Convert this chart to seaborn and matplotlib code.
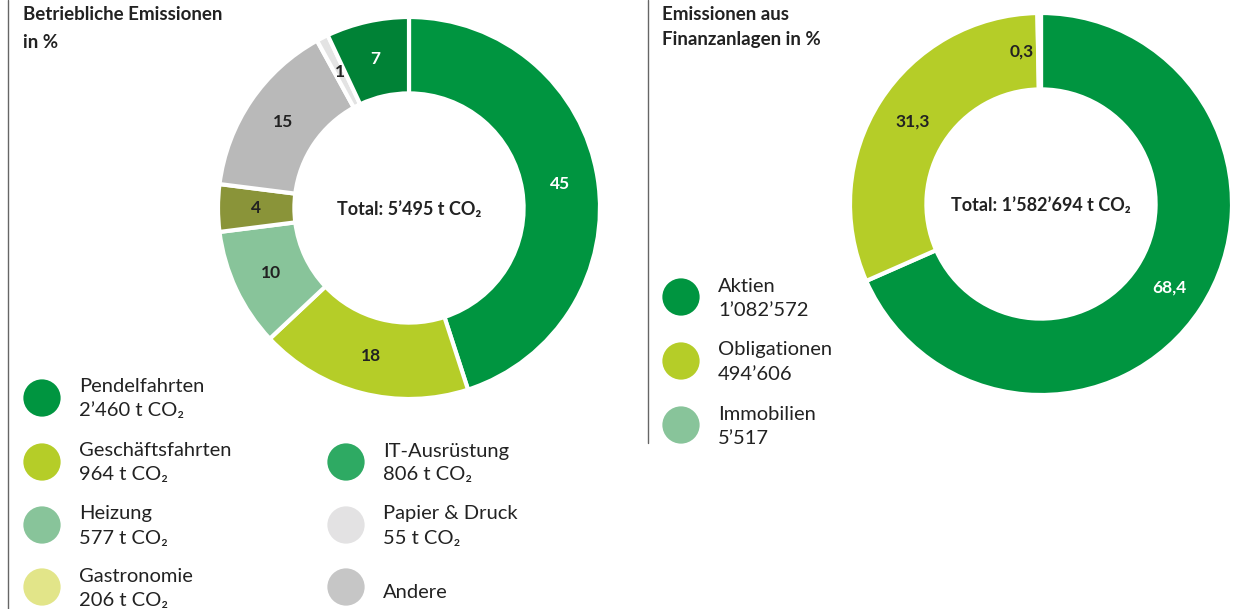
import numpy as np
import pandas as pd
import matplotlib
matplotlib.use("Agg")
import matplotlib.pyplot as plt
import seaborn as sns

# Betriebliche Emissionen (Donut links), Reihenfolge im Uhrzeigersinn ab 12 Uhr
ops_shares = [45, 18, 10, 4, 15, 1, 7]
ops_share_labels = ["45", "18", "10", "4", "15", "1", "7"]
ops_slice_colors = ["#009540", "#b5cd28", "#88c49a", "#8a9439", "#b9b9b9", "#e3e3e3", "#008236"]
ops_label_colors = ["white", "#222222", "#222222", "#222222", "#222222", "#222222", "white"]
ops_total = "Total: 5’495 t CO₂"

ops_legend_names = ["Pendelfahrten", "Geschäftsfahrten", "Heizung", "Gastronomie",
                    "IT-Ausrüstung", "Papier & Druck", "Andere"]
ops_legend_values = ["2’460 t CO₂", "964 t CO₂", "577 t CO₂", "206 t CO₂",
                     "806 t CO₂", "55 t CO₂", ""]
ops_legend_colors = ["#009540", "#b5cd28", "#88c49a", "#e2e589", "#2eaa63", "#e3e2e3", "#c6c6c6"]

# Emissionen aus Finanzanlagen (Donut rechts)
fin_shares = [68.4, 31.3, 0.3]
fin_share_labels = ["68,4", "31,3", "0,3"]
fin_slice_colors = ["#009540", "#b5cd28", "#88c49a"]
fin_label_colors = ["white", "#222222", "#222222"]
fin_total = "Total: 1’582’694 t CO₂"

fin_legend_names = ["Aktien", "Obligationen", "Immobilien"]
fin_legend_values = ["1’082’572", "494’606", "5’517"]
fin_legend_colors = ["#009540", "#b5cd28", "#88c49a"]

sns.set_theme(style="white")
plt.rcParams["font.family"] = ["Lato", "DejaVu Sans"]
TXT = "#222222"

W, H = 1235, 609
fig = plt.figure(figsize=(W / 100, H / 100), dpi=100)
fig.patch.set_facecolor("white")

# Overlay in Pixelkoordinaten fuer Titel, Trennlinien und Legenden
ov = fig.add_axes([0, 0, 1, 1])
ov.set_xlim(0, W)
ov.set_ylim(H, 0)
ov.axis("off")


def donut(cx, cy, r, shares, labels, colors, label_colors, total):
    ax = fig.add_axes([(cx - r) / W, (H - cy - r) / H, 2 * r / W, 2 * r / H])
    wedges, _ = ax.pie(shares, colors=colors, startangle=90, counterclock=False, radius=1,
                       wedgeprops=dict(width=0.40, edgecolor="white", linewidth=3))
    for w, lab, c in zip(wedges, labels, label_colors):
        mid = np.deg2rad((w.theta1 + w.theta2) / 2)
        x, y = 0.8 * np.cos(mid), 0.8 * np.sin(mid)
        ha = "center"
        if w.theta2 - w.theta1 < 2:
            x -= 0.03
            ha = "right"
        ax.text(x, y, lab, ha=ha, va="center", color=c, fontsize=12.5, fontweight="bold")
    ax.text(0, -0.01, total, ha="center", va="center", color=TXT, fontsize=13, fontweight="bold")
    ax.set_xlim(-1, 1)
    ax.set_ylim(-1, 1)
    ax.set_aspect("equal")
    ax.axis("off")


donut(409, 208, 191, ops_shares, ops_share_labels, ops_slice_colors, ops_label_colors, ops_total)
donut(1041, 204, 191, fin_shares, fin_share_labels, fin_slice_colors, fin_label_colors, fin_total)

# Trennlinien
ov.plot([8, 8], [0, H], color="#666666", lw=1)
ov.plot([648, 648], [0, 443], color="#666666", lw=1)

# Titel
ov.text(23, 15, "Betriebliche Emissionen", ha="left", va="center", fontsize=13.5, fontweight="bold", color=TXT)
ov.text(23, 42, "in %", ha="left", va="center", fontsize=13.5, fontweight="bold", color=TXT)
ov.text(662, 15, "Emissionen aus", ha="left", va="center", fontsize=13.5, fontweight="bold", color=TXT)
ov.text(662, 40, "Finanzanlagen in %", ha="left", va="center", fontsize=13.5, fontweight="bold", color=TXT)

# Legenden-Positionen
col_x = [42, 346]
rows_y = [398, 462, 525, 587]
ops_pos = [(0, 0), (0, 1), (0, 2), (0, 3), (1, 1), (1, 2), (1, 3)]
leg = pd.DataFrame({
    "name": ops_legend_names + fin_legend_names,
    "value": ops_legend_values + fin_legend_values,
    "color": ops_legend_colors + fin_legend_colors,
    "x": [col_x[c] for c, r in ops_pos] + [681] * 3,
    "y": [rows_y[r] for c, r in ops_pos] + [297, 361, 425],
})
leg["key"] = leg["name"]
sns.scatterplot(data=leg, x="x", y="y", hue="key", palette=dict(zip(leg["key"], leg["color"])),
                s=720, linewidth=0, legend=False, ax=ov)
for _, row in leg.iterrows():
    tx = row["x"] + 37
    if row["value"]:
        ov.text(tx, row["y"] - 11, row["name"], ha="left", va="center", fontsize=14.5, color=TXT)
        ov.text(tx, row["y"] + 13, row["value"], ha="left", va="center", fontsize=14.5, color=TXT)
    else:
        ov.text(tx, row["y"] + 5, row["name"], ha="left", va="center", fontsize=14.5, color=TXT)
ov.set_xlim(0, W)
ov.set_ylim(H, 0)
ov.axis("off")

fig.savefig("out.png", dpi=100, facecolor="white")
